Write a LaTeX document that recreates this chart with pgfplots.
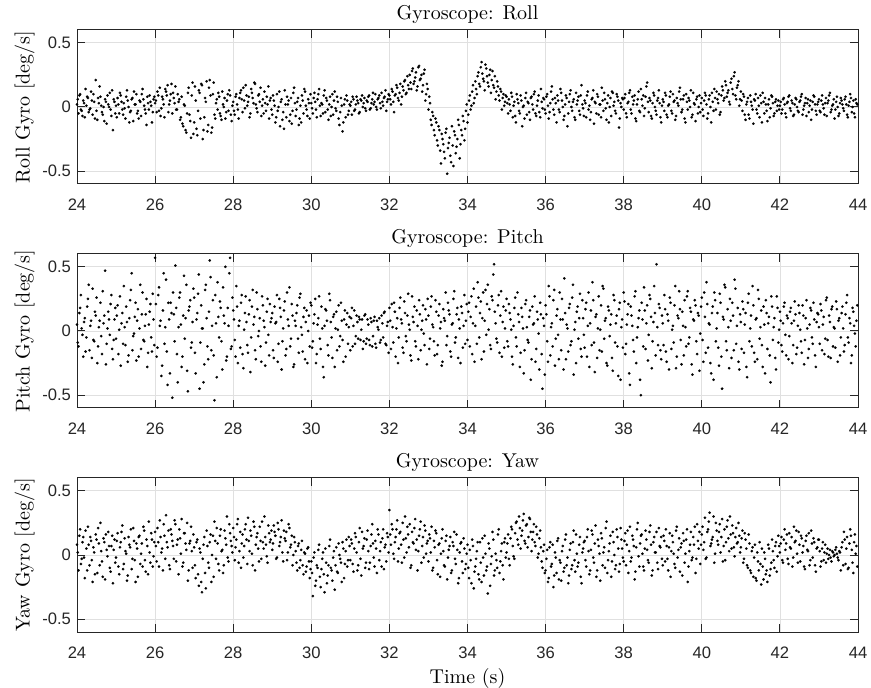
\documentclass[border=0pt]{standalone}
\usepackage{fontspec}
\setsansfont{Liberation Sans}
\usepackage{pgfplots}
\pgfplotsset{compat=1.18}
\definecolor{axcol}{RGB}{38,38,38}
\pgfplotsset{gyro/.style={
  scale only axis, width=390.5pt, height=77pt,
  xmin=24, xmax=44, ymin=-0.6, ymax=0.6,
  xtick={24,26,28,30,32,34,36,38,40,42,44},
  xticklabels={24,26,28,30,32,34,36,38,40,42,44},
  ytick={-0.5,0,0.5}, yticklabels={-0.5,0,0.5},
  grid=major, major grid style={color=black!12, line width=0.4pt},
  tick align=inside, major tick length=4pt,
  axis line style={color=axcol, line width=0.5pt},
  tick style={color=axcol, line width=0.5pt},
  ticklabel style={font=\sffamily\fontsize{8.3}{10}\selectfont, color=axcol},
  xticklabel style={yshift=-4pt},
  yticklabel style={xshift=0.5pt},
  title style={font=\fontsize{10}{12}\selectfont, yshift=-6.5pt},
  ylabel style={font=\fontsize{10}{12}\selectfont, yshift=-3pt},
  xlabel style={font=\fontsize{10}{12}\selectfont, yshift=2pt},
},
dots/.style={only marks, mark=*, mark size=0.62pt, color=black, mark options={line width=0.1pt, fill=black, draw=black}}}
\begin{document}
\begin{tikzpicture}
\path[use as bounding box] (-38.5pt,15pt) rectangle (397pt,-329pt);
\begin{axis}[gyro, at={(0,0)}, anchor=north west, title={Gyroscope: Roll}, ylabel={Roll Gyro [deg/s]}]
\addplot[dots] table {
24.00 0.02
24.04 -0.05
24.08 0.10
24.12 -0.03
24.16 0.05
24.20 -0.08
24.24 0.01
24.28 0.07
24.32 -0.02
24.36 0.12
24.40 -0.06
24.44 0.04
24.48 0.21
24.52 -0.10
24.56 0.03
24.60 0.08
24.64 -0.04
24.68 0.00
24.72 0.06
24.76 -0.13
24.80 0.02
24.84 0.11
24.88 -0.07
24.92 -0.18
24.96 0.04
25.00 0.01
25.04 0.07
25.08 -0.05
25.12 0.09
25.16 -0.02
25.20 0.03
25.24 -0.09
25.28 0.13
25.32 0.00
25.36 -0.04
25.40 0.06
25.44 -0.11
25.48 0.02
25.52 0.10
25.56 -0.03
25.60 0.05
25.64 -0.07
25.68 0.14
25.72 0.01
25.76 -0.05
25.80 0.08
25.84 -0.02
25.88 0.04
25.92 -0.12
25.96 0.06
26.00 0.03
26.04 -0.04
26.08 0.09
26.12 0.15
26.16 -0.01
26.20 0.06
26.24 -0.08
26.28 0.12
26.32 0.17
26.36 0.02
26.40 0.10
26.44 -0.05
26.48 0.07
26.52 0.16
26.56 -0.02
26.60 0.04
26.64 -0.10
26.68 0.08
26.72 -0.15
26.76 0.01
26.80 -0.20
26.84 0.11
26.88 -0.06
26.92 -0.24
26.96 0.19
27.00 -0.12
27.04 0.05
27.08 -0.22
27.12 0.13
27.16 -0.09
27.20 0.17
27.24 -0.18
27.28 0.07
27.32 0.20
27.36 -0.14
27.40 0.21
27.44 -0.20
27.48 0.10
27.52 -0.06
27.56 0.03
27.60 -0.02
27.64 0.08
27.68 -0.07
27.72 0.12
27.76 0.00
27.80 -0.09
27.84 0.05
27.88 -0.03
27.92 0.09
27.96 -0.11
28.00 0.04
28.04 -0.06
28.08 0.10
28.12 -0.02
28.16 0.07
28.20 0.13
28.24 -0.04
28.28 0.05
28.32 0.17
28.36 0.01
28.40 0.08
28.44 -0.05
28.48 0.11
28.52 0.03
28.56 0.18
28.60 -0.01
28.64 0.09
28.68 0.04
28.72 -0.07
28.76 0.06
28.80 0.12
28.84 -0.03
28.88 0.02
28.92 -0.09
28.96 0.07
29.00 -0.06
29.04 0.05
29.08 -0.12
29.12 0.10
29.16 0.00
29.20 -0.15
29.24 0.06
29.28 -0.04
29.32 0.13
29.36 -0.08
29.40 0.02
29.44 -0.11
29.48 0.07
29.52 -0.03
29.56 0.15
29.60 -0.07
29.64 0.04
29.68 -0.14
29.72 0.01
29.76 0.09
29.80 -0.05
29.84 0.12
29.88 -0.02
29.92 0.06
29.96 -0.09
30.00 0.03
30.04 -0.05
30.08 0.11
30.12 -0.02
30.16 0.06
30.20 0.14
30.24 -0.07
30.28 0.02
30.32 0.09
30.36 -0.04
30.40 0.05
30.44 -0.10
30.48 0.08
30.52 0.00
30.56 -0.06
30.60 0.12
30.64 -0.03
30.68 0.04
30.72 -0.14
30.76 0.07
30.80 -0.19
30.84 0.02
30.88 -0.08
30.92 0.05
30.96 -0.03
31.00 0.01
31.04 -0.06
31.08 0.06
31.12 -0.02
31.16 0.08
31.20 0.03
31.24 -0.04
31.28 0.05
31.32 0.00
31.36 0.07
31.40 -0.03
31.44 0.04
31.48 0.09
31.52 -0.01
31.56 0.06
31.60 0.02
31.64 0.10
31.68 -0.02
31.72 0.07
31.76 0.03
31.80 0.11
31.84 0.01
31.88 0.08
31.92 -0.03
31.96 0.06
32.00 0.09
32.04 0.02
32.08 0.12
32.12 -0.04
32.16 0.10
32.20 0.15
32.24 0.05
32.28 0.18
32.32 0.08
32.36 0.13
32.40 0.21
32.44 0.11
32.48 0.17
32.52 0.25
32.56 0.14
32.60 0.30
32.64 0.20
32.68 0.27
32.72 0.16
32.76 0.32
32.80 0.22
32.84 0.12
32.88 0.26
32.92 0.05
32.96 0.18
33.00 -0.02
33.04 0.03
33.08 -0.14
33.12 -0.07
33.16 -0.22
33.20 -0.12
33.24 -0.30
33.28 -0.18
33.32 -0.44
33.36 -0.25
33.40 -0.35
33.44 -0.20
33.48 -0.52
33.52 -0.28
33.56 -0.38
33.60 -0.15
33.64 -0.46
33.68 -0.22
33.72 -0.31
33.76 -0.10
33.80 -0.40
33.84 -0.18
33.88 -0.07
33.92 -0.26
33.96 -0.03
34.00 -0.12
34.04 0.05
34.08 -0.02
34.12 0.12
34.16 0.03
34.20 0.20
34.24 0.10
34.28 0.27
34.32 0.16
34.36 0.35
34.40 0.22
34.44 0.13
34.48 0.30
34.52 0.19
34.56 0.25
34.60 0.11
34.64 0.28
34.68 0.15
34.72 0.06
34.76 0.20
34.80 0.09
34.84 0.14
34.88 -0.02
34.92 0.10
34.96 0.04
35.00 0.08
35.04 -0.05
35.08 0.02
35.12 0.11
35.16 -0.08
35.20 0.04
35.24 -0.12
35.28 0.06
35.32 -0.03
35.36 0.09
35.40 -0.15
35.44 0.01
35.48 0.07
35.52 -0.06
35.56 0.03
35.60 -0.10
35.64 0.08
35.68 -0.02
35.72 0.12
35.76 -0.07
35.80 0.05
35.84 -0.04
35.88 0.14
35.92 -0.01
35.96 0.06
36.00 -0.05
36.04 0.10
36.08 -0.09
36.12 0.03
36.16 0.16
36.20 -0.02
36.24 0.07
36.28 -0.12
36.32 0.05
36.36 -0.04
36.40 0.11
36.44 0.00
36.48 -0.07
36.52 0.09
36.56 -0.15
36.60 0.04
36.64 0.13
36.68 -0.03
36.72 0.06
36.76 -0.10
36.80 0.02
36.84 0.08
36.88 -0.06
36.92 0.17
36.96 -0.01
37.00 0.05
37.04 -0.08
37.08 0.12
37.12 0.01
37.16 -0.04
37.20 0.07
37.24 -0.13
37.28 0.03
37.32 0.10
37.36 -0.06
37.40 0.02
37.44 0.15
37.48 -0.03
37.52 0.06
37.56 -0.10
37.60 0.09
37.64 0.00
37.68 -0.07
37.72 0.11
37.76 0.04
37.80 -0.05
37.84 0.08
37.88 -0.16
37.92 0.03
37.96 0.07
38.00 -0.02
38.04 0.10
38.08 -0.08
38.12 0.04
38.16 0.13
38.20 -0.05
38.24 0.02
38.28 0.09
38.32 -0.11
38.36 0.06
38.40 -0.03
38.44 0.14
38.48 0.01
38.52 -0.07
38.56 0.08
38.60 0.19
38.64 -0.04
38.68 0.05
38.72 -0.09
38.76 0.11
38.80 0.00
38.84 -0.06
38.88 0.07
38.92 0.03
38.96 -0.12
39.00 0.06
39.04 -0.03
39.08 0.09
39.12 -0.08
39.16 0.02
39.20 0.12
39.24 -0.05
39.28 0.04
39.32 -0.10
39.36 0.07
39.40 0.01
39.44 0.15
39.48 -0.04
39.52 0.06
39.56 -0.09
39.60 0.10
39.64 -0.02
39.68 0.05
39.72 0.13
39.76 -0.06
39.80 0.03
39.84 -0.11
39.88 0.08
39.92 0.00
39.96 -0.04
40.00 0.07
40.04 -0.07
40.08 0.11
40.12 0.02
40.16 -0.05
40.20 0.09
40.24 -0.12
40.28 0.04
40.32 0.14
40.36 -0.02
40.40 0.06
40.44 0.10
40.48 -0.04
40.52 0.16
40.56 0.05
40.60 0.20
40.64 0.08
40.68 0.13
40.72 0.02
40.76 0.22
40.80 0.10
40.84 0.27
40.88 0.06
40.92 0.17
40.96 0.01
41.00 0.12
41.04 -0.03
41.08 0.08
41.12 -0.10
41.16 0.04
41.20 -0.06
41.24 0.09
41.28 0.01
41.32 -0.13
41.36 0.05
41.40 -0.02
41.44 0.07
41.48 -0.08
41.52 0.03
41.56 0.11
41.60 -0.05
41.64 0.02
41.68 -0.11
41.72 0.06
41.76 -0.01
41.80 0.08
41.84 -0.07
41.88 0.04
41.92 -0.03
41.96 0.05
42.00 0.01
42.04 -0.05
42.08 0.06
42.12 0.02
42.16 -0.08
42.20 0.04
42.24 0.09
42.28 -0.03
42.32 0.03
42.36 -0.06
42.40 0.07
42.44 0.00
42.48 -0.04
42.52 0.05
42.56 0.10
42.60 -0.02
42.64 0.03
42.68 -0.07
42.72 0.06
42.76 0.01
42.80 -0.10
42.84 0.04
42.88 0.08
42.92 -0.03
42.96 0.02
43.00 0.06
43.04 -0.04
43.08 0.09
43.12 -0.01
43.16 0.03
43.20 -0.07
43.24 0.05
43.28 0.11
43.32 -0.02
43.36 0.02
43.40 -0.09
43.44 0.04
43.48 0.00
43.52 -0.05
43.56 0.07
43.60 0.02
43.64 -0.03
43.68 0.08
43.72 -0.06
43.76 0.01
43.80 0.10
43.84 -0.04
43.88 0.05
43.92 -0.08
43.96 0.03
};
\addplot[dots] table {
24.02 0.06
24.06 0.09
24.10 -0.02
24.14 -0.07
24.18 0.03
24.22 0.14
24.26 0.08
24.30 -0.04
24.34 -0.01
24.38 0.05
24.42 0.10
24.46 -0.09
24.50 -0.03
24.54 0.07
24.58 0.16
24.62 0.01
24.66 -0.06
24.70 -0.11
24.74 0.04
24.78 0.09
24.82 0.00
24.86 -0.02
24.90 0.13
24.94 0.06
24.98 -0.05
25.02 -0.08
25.06 0.02
25.10 0.11
25.14 0.04
25.18 -0.06
25.22 -0.01
25.26 0.08
25.30 0.05
25.34 -0.12
25.38 -0.03
25.42 0.07
25.46 0.12
25.50 0.02
25.54 -0.05
25.58 -0.09
25.62 0.04
25.66 0.10
25.70 0.06
25.74 -0.02
25.78 -0.14
25.82 0.03
25.86 0.09
25.90 0.01
25.94 -0.04
25.98 0.08
26.02 0.05
26.06 0.12
26.10 -0.03
26.14 -0.07
26.18 0.08
26.22 0.02
26.26 0.14
26.30 0.09
26.34 -0.04
26.38 0.05
26.42 0.18
26.46 0.11
26.50 0.03
26.54 -0.02
26.58 0.10
26.62 0.06
26.66 -0.08
26.70 -0.13
26.74 0.02
26.78 -0.18
26.82 -0.05
26.86 0.15
26.90 -0.11
26.94 0.09
26.98 -0.21
27.02 0.16
27.06 -0.17
27.10 -0.03
27.14 0.11
27.18 0.18
27.22 -0.25
27.26 -0.08
27.30 0.04
27.34 -0.19
27.38 0.15
27.42 0.09
27.46 -0.16
27.50 0.19
27.54 -0.09
27.58 0.06
27.62 0.11
27.66 -0.05
27.70 -0.10
27.74 0.02
27.78 0.07
27.82 -0.04
27.86 0.10
27.90 0.13
27.94 -0.06
27.98 0.01
28.02 -0.03
28.06 0.08
28.10 0.02
28.14 -0.09
28.18 0.11
28.22 0.06
28.26 0.15
28.30 -0.01
28.34 0.09
28.38 0.04
28.42 -0.08
28.46 0.14
28.50 0.07
28.54 0.19
28.58 0.02
28.62 -0.04
28.66 0.10
28.70 0.15
28.74 0.01
28.78 -0.05
28.82 0.03
28.86 0.08
28.90 0.16
28.94 0.05
28.98 -0.02
29.02 0.09
29.06 0.01
29.10 -0.08
29.14 -0.03
29.18 0.12
29.22 0.04
29.26 -0.10
29.30 -0.17
29.34 0.02
29.38 0.08
29.42 0.05
29.46 -0.06
29.50 -0.13
29.54 0.11
29.58 0.03
29.62 -0.02
29.66 0.07
29.70 -0.09
29.74 -0.12
29.78 0.05
29.82 0.14
29.86 0.01
29.90 -0.07
29.94 0.03
29.98 0.10
30.02 -0.01
30.06 0.07
30.10 0.04
30.14 -0.08
30.18 0.10
30.22 0.01
30.26 0.03
30.30 -0.05
30.34 0.13
30.38 0.07
30.42 -0.02
30.46 0.02
30.50 -0.07
30.54 0.10
30.58 0.05
30.62 -0.01
30.66 0.08
30.70 -0.09
30.74 -0.04
30.78 0.01
30.82 -0.12
30.86 0.06
30.90 0.09
30.94 -0.06
30.98 0.02
31.02 0.04
31.06 0.08
31.10 -0.03
31.14 0.02
31.18 0.05
31.22 -0.05
31.26 0.06
31.30 0.09
31.34 0.03
31.38 -0.01
31.42 0.05
31.46 0.08
31.50 -0.02
31.54 0.03
31.58 0.11
31.62 0.04
31.66 0.00
31.70 0.06
31.74 0.09
31.78 -0.01
31.82 0.04
31.86 0.07
31.90 0.13
31.94 0.04
31.98 0.10
32.02 0.06
32.06 0.14
32.10 0.04
32.14 0.09
32.18 0.17
32.22 0.07
32.26 0.11
32.30 0.02
32.34 0.16
32.38 0.20
32.42 0.10
32.46 0.24
32.50 0.14
32.54 0.19
32.58 0.28
32.62 0.18
32.66 0.23
32.70 0.13
32.74 0.31
32.78 0.21
32.82 0.25
32.86 0.17
32.90 0.29
32.94 0.10
32.98 0.14
33.02 0.08
33.06 -0.10
33.10 -0.04
33.14 -0.18
33.18 -0.09
33.22 -0.26
33.26 -0.15
33.30 -0.34
33.34 -0.21
33.38 -0.29
33.42 -0.40
33.46 -0.17
33.50 -0.32
33.54 -0.24
33.58 -0.43
33.62 -0.30
33.66 -0.19
33.70 -0.36
33.74 -0.25
33.78 -0.14
33.82 -0.29
33.86 -0.22
33.90 -0.11
33.94 -0.17
33.98 0.02
34.02 -0.06
34.06 0.09
34.10 0.01
34.14 0.17
34.18 0.07
34.22 0.14
34.26 0.24
34.30 0.18
34.34 0.31
34.38 0.26
34.42 0.20
34.46 0.33
34.50 0.24
34.54 0.16
34.58 0.29
34.62 0.21
34.66 0.17
34.70 0.24
34.74 0.12
34.78 0.16
34.82 0.05
34.86 0.12
34.90 0.07
34.94 0.01
34.98 0.09
35.02 0.03
35.06 0.06
35.10 -0.03
35.14 0.08
35.18 0.01
35.22 -0.07
35.26 0.10
35.30 0.03
35.34 -0.05
35.38 0.05
35.42 0.00
35.46 -0.09
35.50 0.11
35.54 0.04
35.58 -0.04
35.62 0.07
35.66 0.02
35.70 0.10
35.74 -0.05
35.78 0.01
35.82 0.09
35.86 -0.08
35.90 0.04
35.94 0.07
35.98 -0.02
36.02 0.08
36.06 0.01
36.10 -0.04
36.14 0.12
36.18 0.06
36.22 -0.06
36.26 0.03
36.30 0.09
36.34 -0.02
36.38 0.14
36.42 0.05
36.46 -0.10
36.50 0.02
36.54 0.07
36.58 -0.05
36.62 0.10
36.66 0.00
36.70 0.04
36.74 -0.08
36.78 0.11
36.82 0.05
36.86 -0.03
36.90 0.09
36.94 0.02
36.98 -0.07
37.02 0.03
37.06 0.09
37.10 -0.02
37.14 -0.10
37.18 0.06
37.22 0.13
37.26 0.04
37.30 -0.05
37.34 0.08
37.38 0.02
37.42 -0.08
37.46 0.05
37.50 0.11
37.54 -0.01
37.58 0.03
37.62 -0.12
37.66 0.07
37.70 0.12
37.74 0.01
37.78 -0.03
37.82 0.10
37.86 0.05
37.90 -0.09
37.94 0.00
37.98 0.06
38.02 0.07
38.06 -0.05
38.10 0.03
38.14 0.11
38.18 -0.02
38.22 0.08
38.26 0.05
38.30 -0.09
38.34 0.02
38.38 0.12
38.42 -0.04
38.46 0.06
38.50 0.09
38.54 -0.01
38.58 0.16
38.62 0.04
38.66 0.07
38.70 -0.07
38.74 0.03
38.78 0.09
38.82 -0.03
38.86 0.05
38.90 0.13
38.94 -0.08
38.98 0.01
39.02 0.04
39.06 0.11
39.10 -0.06
39.14 0.01
39.18 0.08
39.22 -0.03
39.26 0.10
39.30 0.05
39.34 -0.07
39.38 0.03
39.42 0.12
39.46 0.06
39.50 -0.02
39.54 0.09
39.58 -0.12
39.62 0.04
39.66 0.07
39.70 0.00
39.74 -0.08
39.78 0.11
39.82 0.02
39.86 0.06
39.90 -0.05
39.94 0.09
39.98 0.03
40.02 -0.02
40.06 0.05
40.10 0.09
40.14 -0.09
40.18 0.06
40.22 0.00
40.26 0.11
40.30 -0.03
40.34 0.07
40.38 0.12
40.42 0.03
40.46 -0.06
40.50 0.09
40.54 0.13
40.58 0.07
40.62 0.17
40.66 0.11
40.70 0.04
40.74 0.19
40.78 0.14
40.82 0.24
40.86 0.09
40.90 0.15
40.94 0.20
40.98 0.06
41.02 0.05
41.06 0.10
41.10 -0.06
41.14 0.02
41.18 0.07
41.22 -0.09
41.26 0.04
41.30 -0.02
41.34 0.06
41.38 0.10
41.42 -0.05
41.46 0.01
41.50 0.09
41.54 -0.12
41.58 0.04
41.62 0.07
41.66 -0.03
41.70 0.02
41.74 -0.08
41.78 0.09
41.82 0.03
41.86 -0.05
41.90 0.06
41.94 0.01
41.98 -0.02
42.02 0.04
42.06 -0.02
42.10 0.07
42.14 -0.05
42.18 0.03
42.22 0.08
42.26 -0.01
42.30 0.05
42.34 -0.07
42.38 0.02
42.42 0.06
42.46 -0.03
42.50 0.04
42.54 0.08
42.58 -0.06
42.62 0.01
42.66 0.07
42.70 0.03
42.74 -0.04
42.78 0.05
42.82 -0.02
42.86 0.09
42.90 0.02
42.94 -0.06
42.98 0.04
43.02 -0.03
43.06 0.05
43.10 0.02
43.14 -0.06
43.18 0.07
43.22 0.03
43.26 0.09
43.30 -0.04
43.34 0.01
43.38 0.06
43.42 -0.02
43.46 0.08
43.50 -0.07
43.54 0.03
43.58 0.05
43.62 -0.01
43.66 0.06
43.70 0.02
43.74 -0.08
43.78 0.04
43.82 0.07
43.86 0.00
43.90 -0.05
43.94 0.06
43.98 0.02
};
\end{axis}
\begin{axis}[gyro, at={(0,-112pt)}, anchor=north west, title={Gyroscope: Pitch}, ylabel={Pitch Gyro [deg/s]}]
\addplot[dots] table {
24.00 0.05
24.04 -0.12
24.08 0.18
24.12 0.02
24.16 -0.20
24.20 0.10
24.24 -0.05
24.28 0.25
24.32 -0.15
24.36 0.08
24.40 0.33
24.44 -0.08
24.48 0.12
24.52 -0.25
24.56 0.03
24.60 0.22
24.64 -0.18
24.68 0.06
24.72 0.47
24.76 -0.10
24.80 0.15
24.84 -0.03
24.88 0.28
24.92 -0.22
24.96 0.09
25.00 -0.06
25.04 0.20
25.08 0.01
25.12 -0.27
25.16 0.14
25.20 0.35
25.24 -0.11
25.28 0.07
25.32 -0.19
25.36 0.24
25.40 0.45
25.44 -0.04
25.48 0.11
25.52 -0.23
25.56 0.17
25.60 0.02
25.64 -0.14
25.68 0.30
25.72 -0.08
25.76 0.13
25.80 -0.28
25.84 0.05
25.88 0.21
25.92 -0.16
25.96 0.09
26.00 0.57
26.04 -0.20
26.08 0.28
26.12 0.04
26.16 -0.35
26.20 0.16
26.24 -0.10
26.28 0.40
26.32 -0.42
26.36 0.09
26.40 0.22
26.44 -0.52
26.48 0.13
26.52 0.51
26.56 -0.18
26.60 0.03
26.64 0.30
26.68 -0.28
26.72 0.12
26.76 -0.06
26.80 0.36
26.84 -0.47
26.88 0.19
26.92 -0.13
26.96 0.07
27.00 0.26
27.04 -0.33
27.08 0.14
27.12 0.44
27.16 -0.09
27.20 0.02
27.24 -0.40
27.28 0.32
27.32 0.10
27.36 -0.22
27.40 0.55
27.44 -0.15
27.48 0.24
27.52 -0.54
27.56 0.06
27.60 0.38
27.64 -0.05
27.68 0.18
27.72 -0.30
27.76 0.12
27.80 0.50
27.84 -0.20
27.88 0.04
27.92 0.57
27.96 -0.12
28.00 0.16
28.04 -0.07
28.08 0.35
28.12 -0.25
28.16 0.08
28.20 0.22
28.24 -0.18
28.28 0.01
28.32 0.27
28.36 -0.11
28.40 0.13
28.44 -0.32
28.48 0.19
28.52 0.05
28.56 -0.15
28.60 0.30
28.64 -0.04
28.68 0.10
28.72 -0.24
28.76 0.20
28.80 0.03
28.84 -0.09
28.88 0.25
28.92 -0.19
28.96 0.07
29.00 0.14
29.04 -0.21
29.08 0.06
29.12 0.28
29.16 -0.10
29.20 0.18
29.24 -0.30
29.28 0.02
29.32 0.23
29.36 -0.14
29.40 0.09
29.44 0.34
29.48 -0.06
29.52 0.12
29.56 -0.26
29.60 0.04
29.64 0.20
29.68 -0.17
29.72 0.29
29.76 -0.03
29.80 0.11
29.84 -0.22
29.88 0.16
29.92 0.00
29.96 -0.12
30.00 0.20
30.04 -0.08
30.08 0.13
30.12 -0.25
30.16 0.05
30.20 0.27
30.24 -0.14
30.28 0.02
30.32 -0.36
30.36 0.17
30.40 0.08
30.44 -0.19
30.48 0.24
30.52 -0.05
30.56 0.11
30.60 -0.28
30.64 0.15
30.68 0.01
30.72 -0.12
30.76 0.22
30.80 -0.07
30.84 0.09
30.88 -0.20
30.92 0.14
30.96 0.03
31.00 -0.15
31.04 0.18
31.08 0.04
31.12 -0.10
31.16 0.12
31.20 -0.06
31.24 0.09
31.28 0.01
31.32 -0.14
31.36 0.12
31.40 -0.10
31.44 0.09
31.48 -0.07
31.52 0.10
31.56 -0.12
31.60 0.08
31.64 -0.10
31.68 0.08
31.72 0.01
31.76 -0.09
31.80 0.12
31.84 -0.05
31.88 0.15
31.92 -0.11
31.96 0.07
32.00 0.18
32.04 -0.14
32.08 0.03
32.12 0.22
32.16 -0.20
32.20 0.10
32.24 -0.05
32.28 0.26
32.32 0.06
32.36 -0.17
32.40 0.14
32.44 -0.08
32.48 0.29
32.52 0.01
32.56 -0.23
32.60 0.11
32.64 0.19
32.68 -0.12
32.72 0.04
32.76 0.24
32.80 -0.15
32.84 0.08
32.88 -0.02
32.92 0.17
32.96 -0.26
33.00 0.12
33.04 -0.06
33.08 0.27
33.12 0.03
33.16 -0.19
33.20 0.15
33.24 -0.11
33.28 0.21
33.32 0.07
33.36 -0.24
33.40 0.10
33.44 0.30
33.48 -0.04
33.52 0.16
33.56 -0.16
33.60 0.05
33.64 0.25
33.68 -0.09
33.72 0.13
33.76 -0.21
33.80 0.02
33.84 0.19
33.88 -0.13
33.92 0.28
33.96 0.08
34.00 -0.07
34.04 0.22
34.08 0.11
34.12 -0.18
34.16 0.33
34.20 0.04
34.24 -0.10
34.28 0.26
34.32 0.14
34.36 -0.22
34.40 0.30
34.44 0.08
34.48 -0.03
34.52 0.36
34.56 0.17
34.60 -0.14
34.64 0.24
34.68 0.52
34.72 0.06
34.76 -0.09
34.80 0.28
34.84 0.12
34.88 -0.20
34.92 0.19
34.96 0.02
35.00 0.25
35.04 -0.12
35.08 0.14
35.12 0.01
35.16 -0.26
35.20 0.18
35.24 -0.05
35.28 0.30
35.32 0.07
35.36 -0.17
35.40 0.11
35.44 -0.33
35.48 0.21
35.52 0.03
35.56 -0.09
35.60 0.16
35.64 -0.22
35.68 0.05
35.72 0.27
35.76 -0.14
35.80 0.09
35.84 -0.30
35.88 0.13
35.92 -0.45
35.96 0.04
36.00 0.20
36.04 -0.08
36.08 0.35
36.12 -0.19
36.16 0.06
36.20 0.24
36.24 -0.27
36.28 0.12
36.32 -0.03
36.36 0.30
36.40 -0.15
36.44 0.09
36.48 0.41
36.52 -0.22
36.56 0.02
36.60 0.18
36.64 -0.11
36.68 0.26
36.72 -0.34
36.76 0.07
36.80 0.15
36.84 -0.06
36.88 0.29
36.92 -0.20
36.96 0.10
37.00 -0.13
37.04 0.22
37.08 0.04
37.12 -0.28
37.16 0.16
37.20 0.38
37.24 -0.09
37.28 0.11
37.32 -0.21
37.36 0.27
37.40 0.01
37.44 -0.16
37.48 0.33
37.52 0.08
37.56 -0.25
37.60 0.19
37.64 -0.04
37.68 0.13
37.72 -0.31
37.76 0.24
37.80 0.06
37.84 -0.12
37.88 0.17
37.92 -0.38
37.96 0.09
38.00 0.30
38.04 -0.18
38.08 0.05
38.12 0.21
38.16 -0.42
38.20 0.12
38.24 -0.07
38.28 0.27
38.32 -0.25
38.36 0.03
38.40 0.16
38.44 -0.50
38.48 0.09
38.52 0.34
38.56 -0.14
38.60 0.20
38.64 -0.03
38.68 0.25
38.72 -0.29
38.76 0.07
38.80 0.14
38.84 0.52
38.88 -0.11
38.92 0.18
38.96 -0.22
39.00 0.06
39.04 0.28
39.08 -0.16
39.12 0.13
39.16 -0.30
39.20 0.22
39.24 0.01
39.28 -0.09
39.32 0.35
39.36 -0.20
39.40 0.10
39.44 0.17
39.48 -0.26
39.52 0.04
39.56 0.24
39.60 -0.12
39.64 0.31
39.68 -0.05
39.72 0.15
39.76 -0.34
39.80 0.08
39.84 0.20
39.88 -0.18
39.92 0.12
39.96 -0.02
40.00 0.26
40.04 -0.24
40.08 0.11
40.12 0.38
40.16 -0.13
40.20 0.05
40.24 -0.33
40.28 0.19
40.32 0.30
40.36 -0.08
40.40 0.14
40.44 -0.27
40.48 0.22
40.52 -0.45
40.56 0.09
40.60 0.34
40.64 -0.15
40.68 0.03
40.72 0.25
40.76 -0.21
40.80 0.12
40.84 0.40
40.88 -0.10
40.92 0.18
40.96 -0.30
41.00 0.07
41.04 0.23
41.08 -0.17
41.12 0.14
41.16 -0.36
41.20 0.29
41.24 0.02
41.28 -0.12
41.32 0.20
41.36 -0.24
41.40 0.10
41.44 0.32
41.48 -0.06
41.52 0.16
41.56 -0.28
41.60 0.05
41.64 0.24
41.68 -0.14
41.72 0.11
41.76 -0.40
41.80 0.19
41.84 0.03
41.88 -0.21
41.92 0.27
41.96 -0.09
42.00 0.15
42.04 -0.11
42.08 0.06
42.12 0.22
42.16 -0.19
42.20 0.10
42.24 -0.04
42.28 0.18
42.32 -0.25
42.36 0.08
42.40 0.13
42.44 -0.13
42.48 0.20
42.52 0.01
42.56 -0.17
42.60 0.12
42.64 -0.07
42.68 0.24
42.72 -0.21
42.76 0.05
42.80 0.16
42.84 -0.10
42.88 0.09
42.92 -0.28
42.96 0.14
43.00 0.03
43.04 0.21
43.08 -0.15
43.12 0.11
43.16 -0.06
43.20 0.26
43.24 -0.20
43.28 0.07
43.32 0.17
43.36 -0.12
43.40 0.02
43.44 0.23
43.48 -0.24
43.52 0.10
43.56 -0.05
43.60 0.19
43.64 -0.16
43.68 0.13
43.72 0.28
43.76 -0.09
43.80 0.06
43.84 -0.19
43.88 0.15
43.92 -0.02
43.96 0.08
};
\addplot[dots] table {
24.02 -0.09
24.06 0.14
24.10 0.28
24.14 -0.03
24.18 0.07
24.22 -0.16
24.26 0.19
24.30 0.36
24.34 0.04
24.38 -0.21
24.42 -0.07
24.46 0.15
24.50 0.26
24.54 -0.12
24.58 0.08
24.62 -0.04
24.66 0.31
24.70 0.12
24.74 -0.26
24.78 0.02
24.82 0.09
24.86 0.21
24.90 -0.14
24.94 -0.07
24.98 0.18
25.02 0.12
25.06 -0.18
25.10 0.27
25.14 0.06
25.18 -0.10
25.22 0.03
25.26 0.19
25.30 -0.24
25.34 0.10
25.38 0.32
25.42 -0.15
25.46 -0.02
25.50 0.22
25.54 0.08
25.58 -0.20
25.62 0.36
25.66 0.13
25.70 -0.07
25.74 0.04
25.78 0.25
25.82 -0.17
25.86 0.15
25.90 -0.05
25.94 0.29
25.98 -0.11
26.02 0.21
26.06 -0.13
26.10 0.34
26.14 0.08
26.18 -0.27
26.22 0.45
26.26 0.03
26.30 -0.16
26.34 0.22
26.38 -0.33
26.42 0.14
26.46 0.30
26.50 -0.08
26.54 0.18
26.58 -0.40
26.62 0.26
26.66 0.05
26.70 -0.20
26.74 0.43
26.78 0.10
26.82 -0.31
26.86 0.16
26.90 0.24
26.94 -0.09
26.98 0.33
27.02 -0.17
27.06 0.09
27.10 0.29
27.14 -0.45
27.18 0.20
27.22 0.02
27.26 -0.26
27.30 0.36
27.34 -0.12
27.38 0.15
27.42 0.42
27.46 0.04
27.50 -0.19
27.54 0.28
27.58 -0.36
27.62 0.11
27.66 0.23
27.70 -0.08
27.74 0.34
27.78 0.06
27.82 -0.23
27.86 0.18
27.90 0.45
27.94 -0.14
27.98 0.26
28.02 0.09
28.06 -0.20
28.10 0.19
28.14 0.04
28.18 -0.13
28.22 0.28
28.26 -0.29
28.30 0.14
28.34 0.07
28.38 -0.17
28.42 0.24
28.46 -0.05
28.50 0.32
28.54 0.11
28.58 -0.22
28.62 0.17
28.66 0.00
28.70 -0.12
28.74 0.27
28.78 0.08
28.82 -0.27
28.86 0.15
28.90 -0.03
28.94 0.21
28.98 0.10
29.02 -0.15
29.06 0.19
29.10 0.07
29.14 -0.24
29.18 0.25
29.22 0.11
29.26 -0.08
29.30 0.16
29.34 -0.19
29.38 0.30
29.42 0.04
29.46 -0.12
29.50 0.21
29.54 -0.28
29.58 0.08
29.62 0.14
29.66 -0.06
29.70 0.26
29.74 0.03
29.78 -0.16
29.82 0.18
29.86 0.07
29.90 -0.25
29.94 0.12
29.98 0.22
30.02 -0.13
30.06 0.06
30.10 0.25
30.14 -0.18
30.18 0.10
30.22 -0.06
30.26 0.19
30.30 -0.28
30.34 0.04
30.38 0.16
30.42 -0.11
30.46 0.29
30.50 0.07
30.54 -0.21
30.58 0.13
30.62 0.02
30.66 -0.15
30.70 0.20
30.74 -0.04
30.78 0.08
30.82 -0.24
30.86 0.16
30.90 0.05
30.94 -0.10
30.98 0.11
31.02 0.10
31.06 -0.12
31.10 0.16
31.14 -0.04
31.18 0.07
31.22 0.11
31.26 -0.07
31.30 0.09
31.34 -0.08
31.38 0.13
31.42 -0.06
31.46 0.05
31.50 -0.11
31.54 0.07
31.58 -0.04
31.62 0.11
31.66 -0.13
31.70 0.03
31.74 0.10
31.78 -0.07
31.82 0.06
31.86 0.14
31.90 -0.10
31.94 0.04
31.98 -0.17
32.02 0.08
32.06 0.21
32.10 -0.09
32.14 0.15
32.18 0.02
32.22 -0.25
32.26 0.18
32.30 0.09
32.34 -0.13
32.38 0.23
32.42 -0.04
32.46 0.12
32.50 0.05
32.54 -0.19
32.58 0.27
32.62 0.07
32.66 -0.08
32.70 0.16
32.74 -0.22
32.78 0.13
32.82 0.01
32.86 0.20
32.90 -0.11
32.94 0.09
32.98 0.25
33.02 -0.14
33.06 0.19
33.10 0.05
33.14 -0.08
33.18 0.24
33.22 -0.18
33.26 0.12
33.30 0.02
33.34 -0.27
33.38 0.17
33.42 0.08
33.46 -0.11
33.50 0.22
33.54 0.13
33.58 -0.20
33.62 0.06
33.66 0.31
33.70 -0.05
33.74 0.18
33.78 0.09
33.82 -0.25
33.86 0.14
33.90 0.04
33.94 -0.10
33.98 0.21
34.02 0.15
34.06 -0.12
34.10 0.27
34.14 0.06
34.18 -0.24
34.22 0.19
34.26 0.38
34.30 -0.05
34.34 0.23
34.38 0.10
34.42 -0.16
34.46 0.32
34.50 0.21
34.54 0.01
34.58 -0.11
34.62 0.27
34.66 0.44
34.70 0.15
34.74 -0.06
34.78 0.20
34.82 -0.17
34.86 0.31
34.90 0.07
34.94 -0.13
34.98 0.16
35.02 -0.08
35.06 0.21
35.10 0.09
35.14 -0.20
35.18 0.04
35.22 0.26
35.26 -0.12
35.30 0.13
35.34 -0.28
35.38 0.18
35.42 0.02
35.46 -0.15
35.50 0.24
35.54 -0.07
35.58 0.11
35.62 -0.38
35.66 0.19
35.70 0.06
35.74 -0.24
35.78 0.15
35.82 -0.02
35.86 0.22
35.90 -0.18
35.94 0.10
35.98 -0.34
36.02 0.13
36.06 -0.24
36.10 0.27
36.14 0.03
36.18 -0.12
36.22 0.32
36.26 -0.06
36.30 0.17
36.34 -0.22
36.38 0.09
36.42 0.25
36.46 -0.30
36.50 0.14
36.54 0.05
36.58 -0.16
36.62 0.21
36.66 -0.08
36.70 0.36
36.74 0.01
36.78 -0.25
36.82 0.19
36.86 0.10
36.90 -0.14
36.94 0.24
36.98 -0.03
37.02 0.17
37.06 -0.20
37.10 0.30
37.14 0.06
37.18 -0.11
37.22 0.24
37.26 -0.32
37.30 0.13
37.34 0.02
37.38 -0.15
37.42 0.20
37.46 0.35
37.50 -0.06
37.54 0.10
37.58 -0.27
37.62 0.16
37.66 0.05
37.70 -0.21
37.74 0.28
37.78 -0.09
37.82 0.12
37.86 -0.35
37.90 0.22
37.94 0.03
37.98 -0.13
38.02 0.23
38.06 -0.10
38.10 0.13
38.14 -0.33
38.18 0.19
38.22 0.04
38.26 -0.16
38.30 0.31
38.34 -0.05
38.38 0.10
38.42 -0.38
38.46 0.22
38.50 -0.12
38.54 0.16
38.58 0.06
38.62 -0.23
38.66 0.28
38.70 0.11
38.74 -0.08
38.78 0.35
38.82 -0.19
38.86 0.03
38.90 0.21
38.94 -0.15
38.98 0.12
39.02 -0.11
39.06 0.17
39.10 -0.24
39.14 0.08
39.18 0.26
39.22 -0.14
39.26 0.04
39.30 0.20
39.34 -0.29
39.38 0.12
39.42 0.31
39.46 -0.07
39.50 0.15
39.54 -0.19
39.58 0.03
39.62 0.27
39.66 -0.10
39.70 0.18
39.74 -0.26
39.78 0.09
39.82 0.24
39.86 -0.08
39.90 0.14
39.94 -0.31
39.98 0.19
40.02 -0.07
40.06 0.30
40.10 -0.17
40.14 0.21
40.18 0.06
40.22 -0.25
40.26 0.14
40.30 -0.38
40.34 0.24
40.38 0.02
40.42 -0.13
40.46 0.29
40.50 -0.20
40.54 0.11
40.58 0.36
40.62 -0.08
40.66 0.17
40.70 -0.29
40.74 0.08
40.78 0.22
40.82 -0.15
40.86 0.33
40.90 0.04
40.94 -0.24
40.98 0.13
41.02 -0.14
41.06 0.17
41.10 0.05
41.14 -0.28
41.18 0.22
41.22 -0.08
41.26 0.12
41.30 0.35
41.34 -0.17
41.38 0.09
41.42 -0.22
41.46 0.25
41.50 0.03
41.54 -0.11
41.58 0.19
41.62 -0.33
41.66 0.14
41.70 0.06
41.74 -0.19
41.78 0.27
41.82 -0.07
41.86 0.10
41.90 -0.30
41.94 0.18
41.98 0.01
42.02 0.08
42.06 -0.16
42.10 0.19
42.14 -0.03
42.18 0.12
42.22 -0.22
42.26 0.15
42.30 0.06
42.34 -0.11
42.38 0.23
42.42 -0.18
42.46 0.04
42.50 0.14
42.54 -0.08
42.58 0.20
42.62 -0.26
42.66 0.10
42.70 0.02
42.74 -0.14
42.78 0.18
42.82 -0.05
42.86 0.22
42.90 -0.19
42.94 0.07
42.98 0.13
43.02 -0.10
43.06 0.16
43.10 0.05
43.14 -0.18
43.18 0.24
43.22 -0.07
43.26 0.12
43.30 -0.21
43.34 0.19
43.38 0.03
43.42 -0.13
43.46 0.17
43.50 0.08
43.54 -0.19
43.58 0.14
43.62 0.02
43.66 -0.11
43.70 0.22
43.74 -0.05
43.78 0.10
43.82 -0.25
43.86 0.18
43.90 0.04
43.94 -0.12
43.98 0.20
};
\end{axis}
\begin{axis}[gyro, at={(0,-224pt)}, anchor=north west, title={Gyroscope: Yaw}, ylabel={Yaw Gyro [deg/s]}, xlabel={Time (s)}]
\addplot[dots] table {
24.00 0.08
24.04 -0.12
24.08 0.20
24.12 -0.03
24.16 0.14
24.20 -0.18
24.24 0.05
24.28 0.22
24.32 -0.08
24.36 0.11
24.40 -0.21
24.44 0.02
24.48 0.16
24.52 -0.14
24.56 0.09
24.60 0.25
24.64 -0.05
24.68 0.13
24.72 -0.19
24.76 0.04
24.80 0.18
24.84 -0.10
24.88 0.07
24.92 -0.22
24.96 0.12
25.00 -0.02
25.04 0.17
25.08 -0.15
25.12 0.10
25.16 0.23
25.20 -0.07
25.24 0.03
25.28 -0.20
25.32 0.14
25.36 0.06
25.40 -0.11
25.44 0.21
25.48 -0.04
25.52 0.09
25.56 -0.17
25.60 0.15
25.64 0.01
25.68 -0.09
25.72 0.19
25.76 -0.13
25.80 0.07
25.84 0.26
25.88 -0.06
25.92 0.12
25.96 -0.01
26.00 0.18
26.04 -0.05
26.08 0.10
26.12 0.27
26.16 0.02
26.20 -0.12
26.24 0.15
26.28 0.31
26.32 0.06
26.36 -0.08
26.40 0.20
26.44 0.11
26.48 -0.03
26.52 0.24
26.56 0.08
26.60 -0.15
26.64 0.13
26.68 0.28
26.72 -0.06
26.76 0.17
26.80 0.04
26.84 -0.20
26.88 0.09
26.92 0.22
26.96 -0.10
27.00 0.06
27.04 -0.18
27.08 0.12
27.12 -0.24
27.16 0.02
27.20 -0.29
27.24 0.08
27.28 -0.14
27.32 0.19
27.36 -0.06
27.40 0.10
27.44 -0.21
27.48 0.15
27.52 0.26
27.56 -0.03
27.60 0.09
27.64 -0.12
27.68 0.20
27.72 0.04
27.76 -0.08
27.80 0.13
27.84 0.30
27.88 -0.05
27.92 0.17
27.96 0.07
28.00 0.21
28.04 -0.04
28.08 0.12
28.12 0.28
28.16 0.03
28.20 -0.10
28.24 0.16
28.28 0.07
28.32 0.24
28.36 -0.07
28.40 0.11
28.44 0.19
28.48 0.01
28.52 0.26
28.56 -0.12
28.60 0.14
28.64 0.05
28.68 0.22
28.72 -0.03
28.76 0.10
28.80 0.30
28.84 0.08
28.88 -0.06
28.92 0.17
28.96 0.12
29.00 0.04
29.04 0.23
29.08 0.15
29.12 -0.02
29.16 0.20
29.20 0.10
29.24 0.27
29.28 -0.05
29.32 0.13
29.36 0.18
29.40 0.02
29.44 0.21
29.48 0.08
29.52 -0.08
29.56 0.14
29.60 0.03
29.64 -0.12
29.68 0.09
29.72 -0.04
29.76 0.11
29.80 -0.15
29.84 0.01
29.88 -0.09
29.92 0.06
29.96 -0.18
30.00 -0.05
30.04 -0.32
30.08 0.02
30.12 -0.20
30.16 -0.10
30.20 0.08
30.24 -0.25
30.28 -0.03
30.32 -0.15
30.36 0.05
30.40 -0.22
30.44 -0.08
30.48 0.12
30.52 -0.12
30.56 -0.02
30.60 -0.27
30.64 0.06
30.68 -0.14
30.72 0.00
30.76 -0.06
30.80 0.10
30.84 -0.18
30.88 0.03
30.92 -0.09
30.96 0.14
31.00 -0.04
31.04 0.09
31.08 -0.13
31.12 0.17
31.16 0.02
31.20 -0.08
31.24 0.21
31.28 -0.16
31.32 0.05
31.36 0.13
31.40 -0.06
31.44 0.19
31.48 -0.11
31.52 0.07
31.56 0.24
31.60 -0.02
31.64 0.11
31.68 -0.14
31.72 0.16
31.76 0.03
31.80 -0.09
31.84 0.20
31.88 0.06
31.92 -0.05
31.96 0.14
32.00 0.35
32.04 0.08
32.08 0.20
32.12 -0.03
32.16 0.14
32.20 0.27
32.24 0.05
32.28 0.18
32.32 -0.06
32.36 0.12
32.40 0.30
32.44 0.02
32.48 0.16
32.52 0.24
32.56 -0.08
32.60 0.10
32.64 0.21
32.68 0.04
32.72 -0.12
32.76 0.15
32.80 0.26
32.84 0.07
32.88 -0.02
32.92 0.19
32.96 0.09
33.00 -0.05
33.04 0.13
33.08 0.22
33.12 -0.10
33.16 0.06
33.20 0.17
33.24 -0.15
33.28 0.09
33.32 0.01
33.36 0.20
33.40 -0.08
33.44 0.11
33.48 -0.19
33.52 0.04
33.56 0.14
33.60 -0.12
33.64 0.07
33.68 -0.03
33.72 0.16
33.76 -0.22
33.80 0.02
33.84 0.10
33.88 -0.14
33.92 0.05
33.96 -0.07
34.00 0.08
34.04 -0.18
34.08 -0.04
34.12 0.12
34.16 -0.26
34.20 -0.09
34.24 0.03
34.28 -0.15
34.32 0.10
34.36 -0.21
34.40 -0.02
34.44 0.15
34.48 -0.12
34.52 -0.30
34.56 0.05
34.60 -0.07
34.64 0.18
34.68 -0.16
34.72 0.01
34.76 -0.10
34.80 0.20
34.84 -0.05
34.88 0.09
34.92 -0.19
34.96 0.13
35.00 0.02
35.04 0.16
35.08 -0.08
35.12 0.22
35.16 0.07
35.20 -0.03
35.24 0.25
35.28 0.12
35.32 0.30
35.36 0.05
35.40 0.19
35.44 0.32
35.48 0.09
35.52 0.24
35.56 0.14
35.60 0.28
35.64 0.03
35.68 0.18
35.72 0.10
35.76 0.22
35.80 -0.02
35.84 0.13
35.88 0.06
35.92 -0.10
35.96 0.08
36.00 -0.12
36.04 0.04
36.08 -0.18
36.12 0.10
36.16 -0.07
36.20 -0.25
36.24 0.02
36.28 -0.14
36.32 0.13
36.36 -0.04
36.40 -0.20
36.44 0.07
36.48 -0.10
36.52 0.16
36.56 -0.02
36.60 -0.16
36.64 0.09
36.68 -0.08
36.72 0.19
36.76 -0.13
36.80 0.01
36.84 -0.06
36.88 0.14
36.92 -0.22
36.96 0.05
37.00 0.11
37.04 -0.09
37.08 0.20
37.12 -0.15
37.16 0.04
37.20 0.16
37.24 -0.06
37.28 0.23
37.32 -0.12
37.36 0.07
37.40 -0.20
37.44 0.13
37.48 0.02
37.52 -0.10
37.56 0.26
37.60 -0.04
37.64 0.09
37.68 -0.17
37.72 0.18
37.76 0.00
37.80 -0.08
37.84 0.14
37.88 -0.13
37.92 0.21
37.96 0.05
38.00 -0.05
38.04 0.17
38.08 0.08
38.12 -0.14
38.16 0.22
38.20 -0.02
38.24 0.12
38.28 -0.19
38.32 0.06
38.36 0.25
38.40 -0.09
38.44 0.15
38.48 0.01
38.52 -0.12
38.56 0.19
38.60 0.04
38.64 -0.06
38.68 0.23
38.72 -0.16
38.76 0.10
38.80 0.02
38.84 0.18
38.88 -0.11
38.92 0.07
38.96 0.14
39.00 -0.08
39.04 0.11
39.08 0.20
39.12 -0.03
39.16 0.06
39.20 -0.17
39.24 0.15
39.28 0.01
39.32 -0.10
39.36 0.22
39.40 0.04
39.44 -0.13
39.48 0.09
39.52 0.17
39.56 -0.06
39.60 0.12
39.64 -0.21
39.68 0.03
39.72 0.18
39.76 -0.02
39.80 0.08
39.84 -0.14
39.88 0.24
39.92 0.05
39.96 -0.07
40.00 0.16
40.04 0.04
40.08 0.29
40.12 -0.02
40.16 0.20
40.20 0.33
40.24 0.09
40.28 0.14
40.32 -0.06
40.36 0.25
40.40 0.11
40.44 0.18
40.48 0.02
40.52 0.28
40.56 0.07
40.60 -0.04
40.64 0.22
40.68 0.13
40.72 0.30
40.76 0.05
40.80 0.17
40.84 -0.01
40.88 0.21
40.92 0.10
40.96 0.15
41.00 0.06
41.04 0.19
41.08 -0.03
41.12 0.12
41.16 -0.08
41.20 0.16
41.24 -0.12
41.28 0.03
41.32 -0.17
41.36 0.08
41.40 -0.20
41.44 -0.05
41.48 0.10
41.52 -0.23
41.56 -0.09
41.60 0.02
41.64 -0.15
41.68 -0.21
41.72 0.05
41.76 -0.11
41.80 0.12
41.84 -0.04
41.88 0.07
41.92 -0.13
41.96 0.15
42.00 0.02
42.04 0.14
42.08 -0.06
42.12 0.20
42.16 0.09
42.20 -0.03
42.24 0.17
42.28 0.05
42.32 -0.09
42.36 0.22
42.40 0.11
42.44 0.01
42.48 0.18
42.52 -0.05
42.56 0.13
42.60 0.07
42.64 -0.11
42.68 0.15
42.72 0.03
42.76 -0.08
42.80 0.19
42.84 -0.02
42.88 0.10
42.92 -0.13
42.96 0.06
43.00 0.12
43.04 -0.09
43.08 0.05
43.12 -0.04
43.16 0.08
43.20 0.01
43.24 -0.03
43.28 0.04
43.32 -0.05
43.36 0.02
43.40 0.00
43.44 0.06
43.48 -0.02
43.52 0.03
43.56 -0.12
43.60 0.10
43.64 0.18
43.68 -0.07
43.72 0.14
43.76 -0.10
43.80 0.20
43.84 0.04
43.88 -0.14
43.92 0.16
43.96 0.07
};
\addplot[dots] table {
24.02 0.02
24.06 0.15
24.10 -0.07
24.14 0.10
24.18 -0.02
24.22 0.19
24.26 -0.12
24.30 0.08
24.34 0.14
24.38 -0.04
24.42 0.06
24.46 -0.15
24.50 0.12
24.54 0.21
24.58 -0.08
24.62 0.03
24.66 -0.17
24.70 0.10
24.74 0.16
24.78 -0.01
24.82 0.07
24.86 -0.13
24.90 0.15
24.94 0.04
24.98 -0.06
25.02 0.11
25.06 -0.09
25.10 0.06
25.14 0.18
25.18 -0.11
25.22 0.13
25.26 0.01
25.30 -0.16
25.34 0.08
25.38 0.20
25.42 -0.03
25.46 0.11
25.50 -0.21
25.54 0.05
25.58 0.14
25.62 -0.07
25.66 0.09
25.70 0.22
25.74 -0.04
25.78 0.12
25.82 -0.15
25.86 0.02
25.90 0.17
25.94 -0.09
25.98 0.10
26.02 0.07
26.06 0.21
26.10 -0.09
26.14 0.14
26.18 0.05
26.22 0.24
26.26 -0.03
26.30 0.10
26.34 0.19
26.38 -0.11
26.42 0.16
26.46 0.07
26.50 0.27
26.54 -0.05
26.58 0.12
26.62 0.20
26.66 0.01
26.70 -0.09
26.74 0.17
26.78 0.09
26.82 0.25
26.86 -0.12
26.90 0.11
26.94 0.03
26.98 0.16
27.02 -0.08
27.06 0.10
27.10 -0.15
27.14 0.05
27.18 -0.21
27.22 -0.03
27.26 0.14
27.30 -0.26
27.34 0.07
27.38 -0.10
27.42 0.16
27.46 0.00
27.50 -0.17
27.54 0.11
27.58 0.21
27.62 -0.07
27.66 0.15
27.70 0.03
27.74 -0.14
27.78 0.19
27.82 0.08
27.86 -0.02
27.90 0.24
27.94 0.11
27.98 0.02
28.02 0.14
28.06 0.06
28.10 0.24
28.14 -0.06
28.18 0.18
28.22 0.09
28.26 -0.02
28.30 0.20
28.34 0.12
28.38 0.29
28.42 0.03
28.46 0.15
28.50 -0.08
28.54 0.22
28.58 0.08
28.62 0.17
28.66 -0.05
28.70 0.11
28.74 0.26
28.78 0.05
28.82 0.14
28.86 -0.01
28.90 0.23
28.94 0.10
28.98 0.19
29.02 0.09
29.06 0.18
29.10 -0.03
29.14 0.25
29.18 0.07
29.22 0.14
29.26 0.02
29.30 0.19
29.34 0.11
29.38 -0.04
29.42 0.24
29.46 0.06
29.50 0.15
29.54 0.00
29.58 0.10
29.62 -0.06
29.66 0.07
29.70 -0.10
29.74 0.04
29.78 -0.08
29.82 0.02
29.86 -0.13
29.90 0.05
29.94 -0.05
29.98 -0.11
30.02 -0.14
30.06 -0.02
30.10 -0.24
30.14 -0.08
30.18 0.04
30.22 -0.17
30.26 -0.11
30.30 0.02
30.34 -0.29
30.38 -0.06
30.42 -0.16
30.46 0.07
30.50 -0.10
30.54 -0.20
30.58 0.03
30.62 -0.08
30.66 -0.13
30.70 0.09
30.74 -0.03
30.78 -0.21
30.82 0.05
30.86 -0.07
30.90 0.12
30.94 -0.04
30.98 0.07
31.02 0.12
31.06 -0.07
31.10 0.05
31.14 0.14
31.18 -0.12
31.22 0.10
31.26 -0.03
31.30 0.18
31.34 0.07
31.38 -0.10
31.42 0.12
31.46 0.03
31.50 -0.06
31.54 0.16
31.58 0.09
31.62 -0.09
31.66 0.05
31.70 0.20
31.74 -0.04
31.78 0.10
31.82 0.13
31.86 -0.11
31.90 0.08
31.94 0.17
31.98 0.02
32.02 0.16
32.06 0.24
32.10 0.01
32.14 0.10
32.18 0.20
32.22 -0.05
32.26 0.17
32.30 0.08
32.34 0.25
32.38 -0.02
32.42 0.13
32.46 0.22
32.50 0.06
32.54 -0.10
32.58 0.18
32.62 0.09
32.66 0.28
32.70 0.12
32.74 0.03
32.78 0.20
32.82 -0.06
32.86 0.14
32.90 0.23
32.94 0.01
32.98 0.11
33.02 0.16
33.06 0.02
33.10 -0.12
33.14 0.11
33.18 0.19
33.22 -0.04
33.26 0.08
33.30 -0.17
33.34 0.13
33.38 0.03
33.42 -0.09
33.46 0.15
33.50 -0.02
33.54 0.07
33.58 -0.14
33.62 0.10
33.66 0.18
33.70 -0.07
33.74 0.04
33.78 -0.18
33.82 0.09
33.86 -0.05
33.90 0.13
33.94 -0.11
33.98 0.01
34.02 -0.10
34.06 0.04
34.10 -0.22
34.14 0.07
34.18 -0.13
34.22 -0.03
34.26 0.10
34.30 -0.19
34.34 -0.06
34.38 0.13
34.42 -0.16
34.46 0.01
34.50 -0.09
34.54 0.09
34.58 -0.24
34.62 -0.01
34.66 0.12
34.70 -0.12
34.74 -0.04
34.78 0.16
34.82 -0.14
34.86 0.03
34.90 -0.08
34.94 0.10
34.98 -0.02
35.02 0.09
35.06 -0.03
35.10 0.13
35.14 0.20
35.18 -0.01
35.22 0.17
35.26 0.26
35.30 0.08
35.34 0.21
35.38 0.15
35.42 0.27
35.46 0.11
35.50 0.23
35.54 0.06
35.58 0.29
35.62 0.18
35.66 0.12
35.70 0.24
35.74 0.07
35.78 0.16
35.82 0.01
35.86 0.19
35.90 -0.05
35.94 0.03
35.98 -0.14
36.02 -0.03
36.06 -0.21
36.10 0.06
36.14 -0.09
36.18 0.08
36.22 -0.16
36.26 -0.02
36.30 0.11
36.34 -0.19
36.38 -0.06
36.42 0.03
36.46 -0.13
36.50 0.12
36.54 -0.08
36.58 -0.22
36.62 0.04
36.66 -0.11
36.70 0.10
36.74 -0.04
36.78 0.16
36.82 -0.09
36.86 0.08
36.90 -0.17
36.94 0.02
36.98 0.10
37.02 -0.04
37.06 0.14
37.10 0.03
37.14 -0.12
37.18 0.19
37.22 -0.02
37.26 0.09
37.30 -0.17
37.34 0.12
37.38 0.01
37.42 0.17
37.46 -0.08
37.50 0.06
37.54 0.21
37.58 -0.14
37.62 0.03
37.66 0.15
37.70 -0.05
37.74 0.10
37.78 -0.11
37.82 0.20
37.86 0.05
37.90 -0.07
37.94 0.12
37.98 -0.02
38.02 0.11
38.06 -0.08
38.10 0.19
38.14 0.03
38.18 -0.05
38.22 0.15
38.26 0.07
38.30 -0.13
38.34 0.20
38.38 -0.01
38.42 0.09
38.46 0.16
38.50 -0.09
38.54 0.05
38.58 0.12
38.62 -0.04
38.66 0.18
38.70 0.08
38.74 -0.12
38.78 0.14
38.82 0.02
38.86 -0.06
38.90 0.21
38.94 0.06
38.98 -0.03
39.02 0.15
39.06 -0.05
39.10 0.07
39.14 -0.12
39.18 0.17
39.22 0.03
39.26 0.10
39.30 -0.07
39.34 0.19
39.38 -0.02
39.42 0.13
39.46 0.06
39.50 -0.16
39.54 0.11
39.58 0.01
39.62 0.20
39.66 -0.09
39.70 0.08
39.74 -0.04
39.78 0.14
39.82 0.22
39.86 -0.03
39.90 0.11
39.94 0.18
39.98 0.08
40.02 0.22
40.06 0.10
40.10 -0.03
40.14 0.18
40.18 0.26
40.22 0.07
40.26 0.12
40.30 0.30
40.34 0.01
40.38 0.19
40.42 0.08
40.46 0.24
40.50 0.14
40.54 -0.05
40.58 0.20
40.62 0.10
40.66 0.27
40.70 0.03
40.74 0.16
40.78 0.23
40.82 0.06
40.86 0.14
40.90 0.09
40.94 0.25
40.98 0.02
41.02 0.13
41.06 -0.06
41.10 0.17
41.14 0.05
41.18 -0.10
41.22 0.09
41.26 -0.14
41.30 0.06
41.34 -0.02
41.38 -0.18
41.42 0.02
41.46 -0.12
41.50 -0.07
41.54 0.05
41.58 -0.19
41.62 -0.03
41.66 -0.12
41.70 0.08
41.74 -0.16
41.78 -0.06
41.82 0.03
41.86 -0.10
41.90 0.10
41.94 -0.01
41.98 0.07
42.02 0.09
42.06 -0.04
42.10 0.12
42.14 0.04
42.18 0.16
42.22 -0.07
42.26 0.06
42.30 0.14
42.34 -0.02
42.38 0.10
42.42 0.19
42.46 -0.06
42.50 0.08
42.54 0.15
42.58 0.02
42.62 -0.09
42.66 0.11
42.70 0.04
42.74 0.17
42.78 -0.04
42.82 0.09
42.86 0.13
42.90 -0.08
42.94 0.05
42.98 0.12
43.02 0.03
43.06 -0.05
43.10 0.10
43.14 0.02
43.18 -0.06
43.22 0.05
43.26 0.00
43.30 -0.02
43.34 0.03
43.38 -0.01
43.42 0.04
43.46 0.01
43.50 -0.04
43.54 0.02
43.58 0.06
43.62 -0.08
43.66 0.12
43.70 0.05
43.74 -0.11
43.78 0.09
43.82 0.15
43.86 -0.06
43.90 0.10
43.94 0.01
43.98 -0.09
};
\end{axis}
\end{tikzpicture}
\end{document}
